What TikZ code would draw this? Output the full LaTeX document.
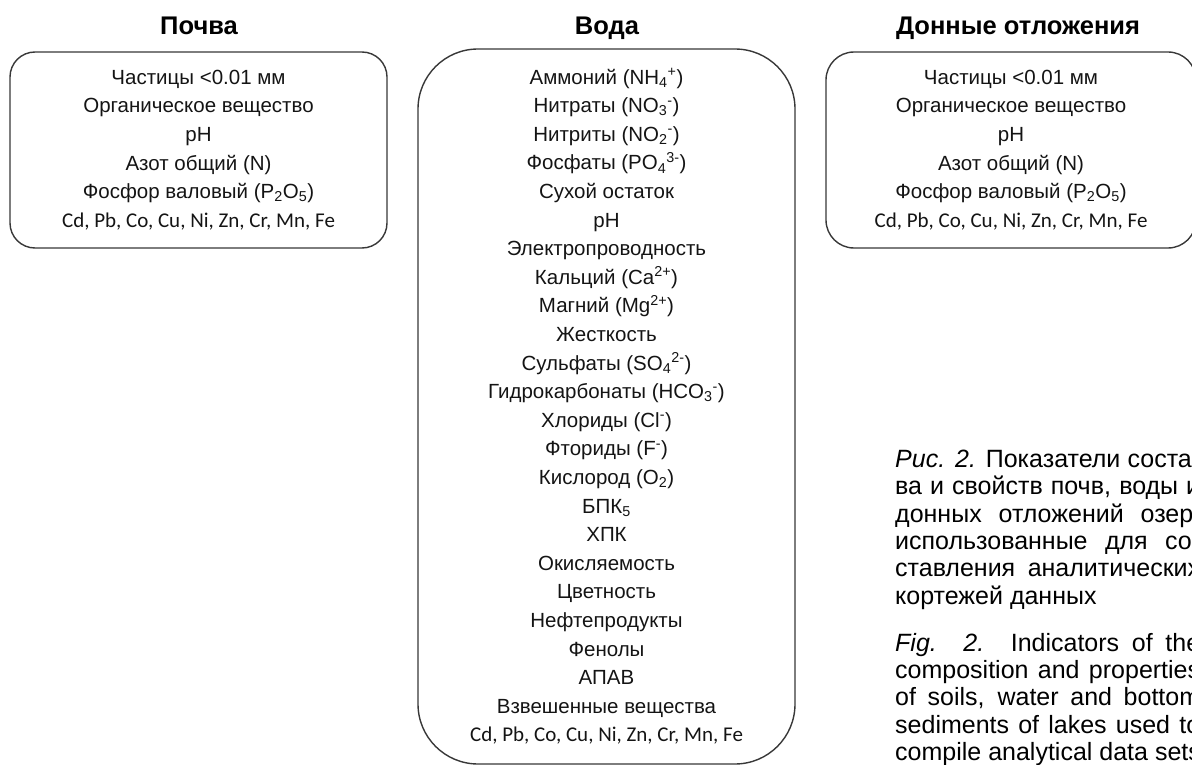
\documentclass[tikz,border=0pt]{standalone}
\usepackage{fontspec}
\setmainfont{Liberation Sans}
\newfontfamily\calfont{Carlito}

\newcommand\lo[1]{\textsubscript{#1}}
\newcommand\hi[1]{\textsuperscript{#1}}
\newcommand\metals{{\calfont\fontsize{21}{28.6}\selectfont Cd, Pb, Co, Cu, Ni, Zn, Cr, Mn, Fe}}

\tikzset{
  listbox/.style={draw=black!78, line width=1.4pt, align=center, inner sep=0pt,
    text=black!92, font=\fontsize{20.5}{28.6}\selectfont},
  heading/.style={anchor=base, font=\bfseries\fontsize{25.5}{28}\selectfont},
  capt/.style={anchor=north west, align=justify, text width=305pt, inner sep=0pt,
    font=\fontsize{25}{27.3}\selectfont}
}

\begin{document}
\begin{tikzpicture}[x=1pt,y=-1pt]
  \useasboundingbox (0,0) rectangle (1192,765);
  \clip (0,0) rectangle (1192,765);

  % headings
  \node[heading] (hsoil) at (199,35) {Почва};
  \node[heading] (hwater) at (607,35) {Вода};
  \node[heading] (hsed) at (1018,35) {Донные отложения};

  % lists
  \node[listbox, minimum width=377pt, minimum height=196pt, rounded corners=25pt]
    (soil) at (198.5,150) {Частицы <0.01 мм\\ Органическое вещество\\ pH\\
    Азот общий (N)\\ Фосфор валовый (P\lo{2}O\lo{5})\\ \metals};

  \node[listbox, minimum width=377pt, minimum height=715pt, rounded corners=60pt]
    (water) at (606.5,406.5) {Аммоний (NH\lo{4}\hi{+})\\ Нитраты (NO\lo{3}\hi{-})\\
    Нитриты (NO\lo{2}\hi{-})\\ Фосфаты (PO\lo{4}\hi{3-})\\ Сухой остаток\\ pH\\
    Электропроводность\\ Кальций (Ca\hi{2+})\\ Магний (Mg\hi{2+})\\ Жесткость\\
    Сульфаты (SO\lo{4}\hi{2-})\\ Гидрокарбонаты (HCO\lo{3}\hi{-})\\ Хлориды (Cl\hi{-})\\
    Фториды (F\hi{-})\\ Кислород (O\lo{2})\\ БПК\lo{5}\\ ХПК\\ Окисляемость\\
    Цветность\\ Нефтепродукты\\ Фенолы\\ АПАВ\\ Взвешенные вещества\\ \metals};

  \node[listbox, minimum width=370pt, minimum height=196pt, rounded corners=28pt]
    (sed) at (1011,150) {Частицы <0.01 мм\\ Органическое вещество\\ pH\\
    Азот общий (N)\\ Фосфор валовый (P\lo{2}O\lo{5})\\ \metals};

  % caption
  \node[capt] (caprus) at (895,450) {\textit{Рис. 2.} Показатели соста-\linebreak
    ва и свойств почв, воды и\linebreak донных отложений озер,\linebreak
    использованные для со-\linebreak ставления аналитических\linebreak
    \mbox{кортежей данных}};
  \node[capt] (capeng) at (895,633) {\textit{Fig. 2.} Indicators of the\linebreak
    composition and properties\linebreak of soils, water and bottom\linebreak
    sediments of lakes used to\linebreak \mbox{compile analytical data sets.}};
\end{tikzpicture}
\end{document}
